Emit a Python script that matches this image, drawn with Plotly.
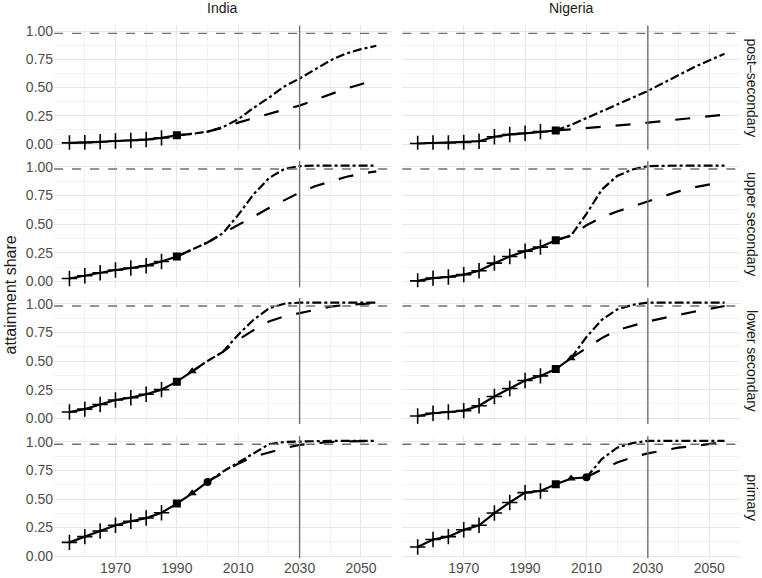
import plotly.graph_objects as go

COUNTRIES = ["India", "Nigeria"]
LEVELS = ["post\u2013secondary", "upper secondary", "lower secondary", "primary"]
X_TICKS = [1970, 1990, 2010, 2030, 2050]
Y_TICKS = [0.0, 0.25, 0.5, 0.75, 1.0]
TARGET_YEAR = 2030
TARGET_SHARE = 0.98
FIRST_YEAR = 1955
LAST_YEAR = 2055

# year of the square marker (last census point) per country
SQUARE_YEAR = {"India": 1990, "Nigeria": 2000}

# observed shares every 5 years from 1955
india_post_obs = [0.01, 0.013, 0.02, 0.027, 0.032, 0.04, 0.055, 0.077]
india_upper_obs = [0.026, 0.05, 0.077, 0.1, 0.118, 0.138, 0.174, 0.218]
india_lower_obs = [0.055, 0.08, 0.12, 0.16, 0.18, 0.21, 0.25, 0.32, 0.41]
india_primary_obs = [0.12, 0.17, 0.22, 0.27, 0.305, 0.333, 0.38, 0.46, 0.55, 0.65]
nigeria_post_obs = [0.005, 0.01, 0.01, 0.015, 0.025, 0.065, 0.085, 0.095, 0.11, 0.12]
nigeria_upper_obs = [0.006, 0.03, 0.04, 0.06, 0.094, 0.16, 0.218, 0.265, 0.3, 0.36]
nigeria_lower_obs = [0.02, 0.044, 0.055, 0.067, 0.11, 0.19, 0.26, 0.33, 0.37, 0.43, 0.525]
nigeria_primary_obs = [0.08, 0.145, 0.17, 0.23, 0.27, 0.377, 0.47, 0.556, 0.57, 0.63, 0.68, 0.69]

# projections (every 5 years from last observed year to 2055)
india_post_trend = [0.077, 0.09, 0.11, 0.145, 0.19, 0.23, 0.265, 0.305, 0.34, 0.39, 0.44, 0.49, 0.53, 0.57]
india_post_fast = [0.077, 0.09, 0.11, 0.15, 0.22, 0.32, 0.41, 0.51, 0.58, 0.66, 0.74, 0.8, 0.84, 0.87]
india_upper_trend = [0.218, 0.28, 0.34, 0.42, 0.49, 0.565, 0.64, 0.71, 0.775, 0.83, 0.87, 0.91, 0.94, 0.96]
india_upper_fast = [0.218, 0.28, 0.34, 0.42, 0.58, 0.76, 0.9, 0.98, 1.005, 1.01, 1.01, 1.01, 1.01, 1.01]
india_lower_trend = [0.41, 0.5, 0.58, 0.685, 0.77, 0.845, 0.89, 0.92, 0.95, 0.975, 0.99, 1.0, 1.005]
india_lower_fast = [0.41, 0.5, 0.58, 0.73, 0.86, 0.96, 1.0, 1.01, 1.01, 1.01, 1.01, 1.01, 1.01]
india_primary_trend = [0.65, 0.73, 0.81, 0.87, 0.91, 0.945, 0.975, 0.99, 1.0, 1.005, 1.01, 1.01]
india_primary_fast = [0.65, 0.74, 0.82, 0.9, 0.98, 1.0, 1.005, 1.01, 1.01, 1.01, 1.01, 1.01]
nigeria_post_trend = [0.12, 0.13, 0.14, 0.15, 0.16, 0.175, 0.19, 0.205, 0.22, 0.235, 0.25, 0.26]
nigeria_post_fast = [0.12, 0.17, 0.23, 0.29, 0.35, 0.41, 0.47, 0.54, 0.61, 0.68, 0.74, 0.8]
nigeria_upper_trend = [0.36, 0.4, 0.49, 0.56, 0.61, 0.655, 0.7, 0.745, 0.785, 0.82, 0.845, 0.87]
nigeria_upper_fast = [0.36, 0.4, 0.59, 0.8, 0.92, 0.976, 1.005, 1.01, 1.01, 1.01, 1.01, 1.01]
nigeria_lower_trend = [0.525, 0.61, 0.7, 0.77, 0.81, 0.845, 0.875, 0.905, 0.93, 0.955, 0.98]
nigeria_lower_fast = [0.525, 0.71, 0.86, 0.95, 0.99, 1.01, 1.01, 1.01, 1.01, 1.01, 1.01]
nigeria_primary_trend = [0.69, 0.76, 0.82, 0.865, 0.9, 0.925, 0.95, 0.965, 0.98, 1.0]
nigeria_primary_fast = [0.69, 0.85, 0.95, 0.99, 1.01, 1.01, 1.01, 1.01, 1.01, 1.01]

# extra observed points after the square (triangle first, then circle)
EXTRA_POINTS = {
    ("India", "lower secondary"): [1995],
    ("India", "primary"): [1995, 2000],
    ("Nigeria", "lower secondary"): [2005],
    ("Nigeria", "primary"): [2005, 2010],
}

OBS = {
    ("India", LEVELS[0]): india_post_obs,
    ("India", LEVELS[1]): india_upper_obs,
    ("India", LEVELS[2]): india_lower_obs,
    ("India", LEVELS[3]): india_primary_obs,
    ("Nigeria", LEVELS[0]): nigeria_post_obs,
    ("Nigeria", LEVELS[1]): nigeria_upper_obs,
    ("Nigeria", LEVELS[2]): nigeria_lower_obs,
    ("Nigeria", LEVELS[3]): nigeria_primary_obs,
}
TREND = {
    ("India", LEVELS[0]): india_post_trend,
    ("India", LEVELS[1]): india_upper_trend,
    ("India", LEVELS[2]): india_lower_trend,
    ("India", LEVELS[3]): india_primary_trend,
    ("Nigeria", LEVELS[0]): nigeria_post_trend,
    ("Nigeria", LEVELS[1]): nigeria_upper_trend,
    ("Nigeria", LEVELS[2]): nigeria_lower_trend,
    ("Nigeria", LEVELS[3]): nigeria_primary_trend,
}
FAST = {
    ("India", LEVELS[0]): india_post_fast,
    ("India", LEVELS[1]): india_upper_fast,
    ("India", LEVELS[2]): india_lower_fast,
    ("India", LEVELS[3]): india_primary_fast,
    ("Nigeria", LEVELS[0]): nigeria_post_fast,
    ("Nigeria", LEVELS[1]): nigeria_upper_fast,
    ("Nigeria", LEVELS[2]): nigeria_lower_fast,
    ("Nigeria", LEVELS[3]): nigeria_primary_fast,
}

X_DOMAINS = [[0.071, 0.514], [0.528, 0.971]]
Y_DOMAINS = [[0.741, 0.956], [0.503, 0.7215], [0.2664, 0.4844], [0.034, 0.2452]]
Y_RANGES = [[-0.05, 1.05], [-0.05, 1.05], [-0.05, 1.05], [-0.02, 1.05]]

FONT = "Liberation Sans, Arial"
TICK_FONT = dict(family=FONT, size=14, color="#4d4d4d")
GRID = "#e6e6e6"
MINOR_GRID = "#f2f2f2"
LINE_W = 2.2

fig = go.Figure()
layout = {}
shapes = []
annotations = []

for r, level in enumerate(LEVELS):
    for c, country in enumerate(COUNTRIES):
        idx = r * 2 + c + 1
        xa = "x" if idx == 1 else f"x{idx}"
        ya = "y" if idx == 1 else f"y{idx}"
        key = (country, level)
        obs = OBS[key]
        obs_years = [FIRST_YEAR + 5 * i for i in range(len(obs))]
        start = obs_years[-1]
        proj_years = list(range(start, LAST_YEAR + 1, 5))

        common = dict(xaxis=xa, yaxis=ya, showlegend=False, hoverinfo="x+y")
        fig.add_trace(go.Scatter(x=proj_years, y=TREND[key], mode="lines",
                                 line=dict(color="black", width=LINE_W, dash="longdash"), **common))
        fig.add_trace(go.Scatter(x=proj_years, y=FAST[key], mode="lines",
                                 line=dict(color="black", width=LINE_W, dash="dashdot"), **common))
        fig.add_trace(go.Scatter(x=obs_years, y=obs, mode="lines",
                                 line=dict(color="black", width=LINE_W), **common))

        sq = SQUARE_YEAR[country]
        plus_x = [y for y in obs_years if y < sq]
        plus_y = [v for y, v in zip(obs_years, obs) if y < sq]
        fig.add_trace(go.Scatter(x=plus_x, y=plus_y, mode="markers",
                                 marker=dict(symbol="cross-thin", size=11, line=dict(color="black", width=1.6)),
                                 **common))
        sq_v = obs[obs_years.index(sq)]
        fig.add_trace(go.Scatter(x=[sq], y=[sq_v], mode="markers",
                                 marker=dict(symbol="square", size=8, color="black"), **common))
        extras = EXTRA_POINTS.get(key, [])
        for k, ey in enumerate(extras):
            sym = "triangle-up" if k == 0 else "circle"
            fig.add_trace(go.Scatter(x=[ey], y=[obs[obs_years.index(ey)]], mode="markers",
                                     marker=dict(symbol=sym, size=8, color="black"), **common))

        xkey = "xaxis" if idx == 1 else f"xaxis{idx}"
        ykey = "yaxis" if idx == 1 else f"yaxis{idx}"
        layout[xkey] = dict(
            domain=X_DOMAINS[c], anchor=ya, range=[1950, 2060],
            tickvals=X_TICKS, showticklabels=(r == 3), ticks="",
            showgrid=True, gridcolor=GRID, gridwidth=1, zeroline=False,
            minor=dict(tickvals=[1960, 1980, 2000, 2020, 2040], showgrid=True, gridcolor=MINOR_GRID),
            tickfont=TICK_FONT, showline=False, automargin=False,
        )
        layout[ykey] = dict(
            domain=Y_DOMAINS[r], anchor=xa, range=Y_RANGES[r],
            tickvals=Y_TICKS, tickformat=".2f", showticklabels=(c == 0), ticks="",
            showgrid=True, gridcolor=GRID, gridwidth=1, zeroline=False,
            minor=dict(tickvals=[0.125, 0.375, 0.625, 0.875], showgrid=True, gridcolor=MINOR_GRID),
            tickfont=TICK_FONT, showline=False, automargin=False,
        )
        shapes.append(dict(type="line", xref=f"{xa} domain", yref=ya, x0=0, x1=1,
                           y0=TARGET_SHARE, y1=TARGET_SHARE,
                           line=dict(color="#707070", width=1.4, dash="dash"), layer="above"))
        shapes.append(dict(type="line", xref=xa, yref=f"{ya} domain", x0=TARGET_YEAR, x1=TARGET_YEAR,
                           y0=0, y1=1, line=dict(color="#707070", width=1.4), layer="above"))

for c, country in enumerate(COUNTRIES):
    annotations.append(dict(text=country, x=sum(X_DOMAINS[c]) / 2, y=0.986, xref="paper", yref="paper",
                            showarrow=False, xanchor="center", yanchor="middle",
                            font=dict(family=FONT, size=14, color="#1a1a1a")))
for r, level in enumerate(LEVELS):
    annotations.append(dict(text=level, x=0.987, y=sum(Y_DOMAINS[r]) / 2, xref="paper", yref="paper",
                            showarrow=False, textangle=90, xanchor="center", yanchor="middle",
                            font=dict(family=FONT, size=14, color="#1a1a1a")))
annotations.append(dict(text="attainment share", x=0.014, y=0.49, xref="paper", yref="paper",
                        showarrow=False, textangle=-90, xanchor="center", yanchor="middle",
                        font=dict(family=FONT, size=16, color="#1a1a1a")))

fig.update_layout(
    width=762, height=578,
    margin=dict(l=0, r=0, t=0, b=0),
    paper_bgcolor="white", plot_bgcolor="white",
    shapes=shapes, annotations=annotations,
    **layout,
)

fig.write_html("out.html", config={"displayModeBar": False},
               post_script="document.body.style.margin='0';")
